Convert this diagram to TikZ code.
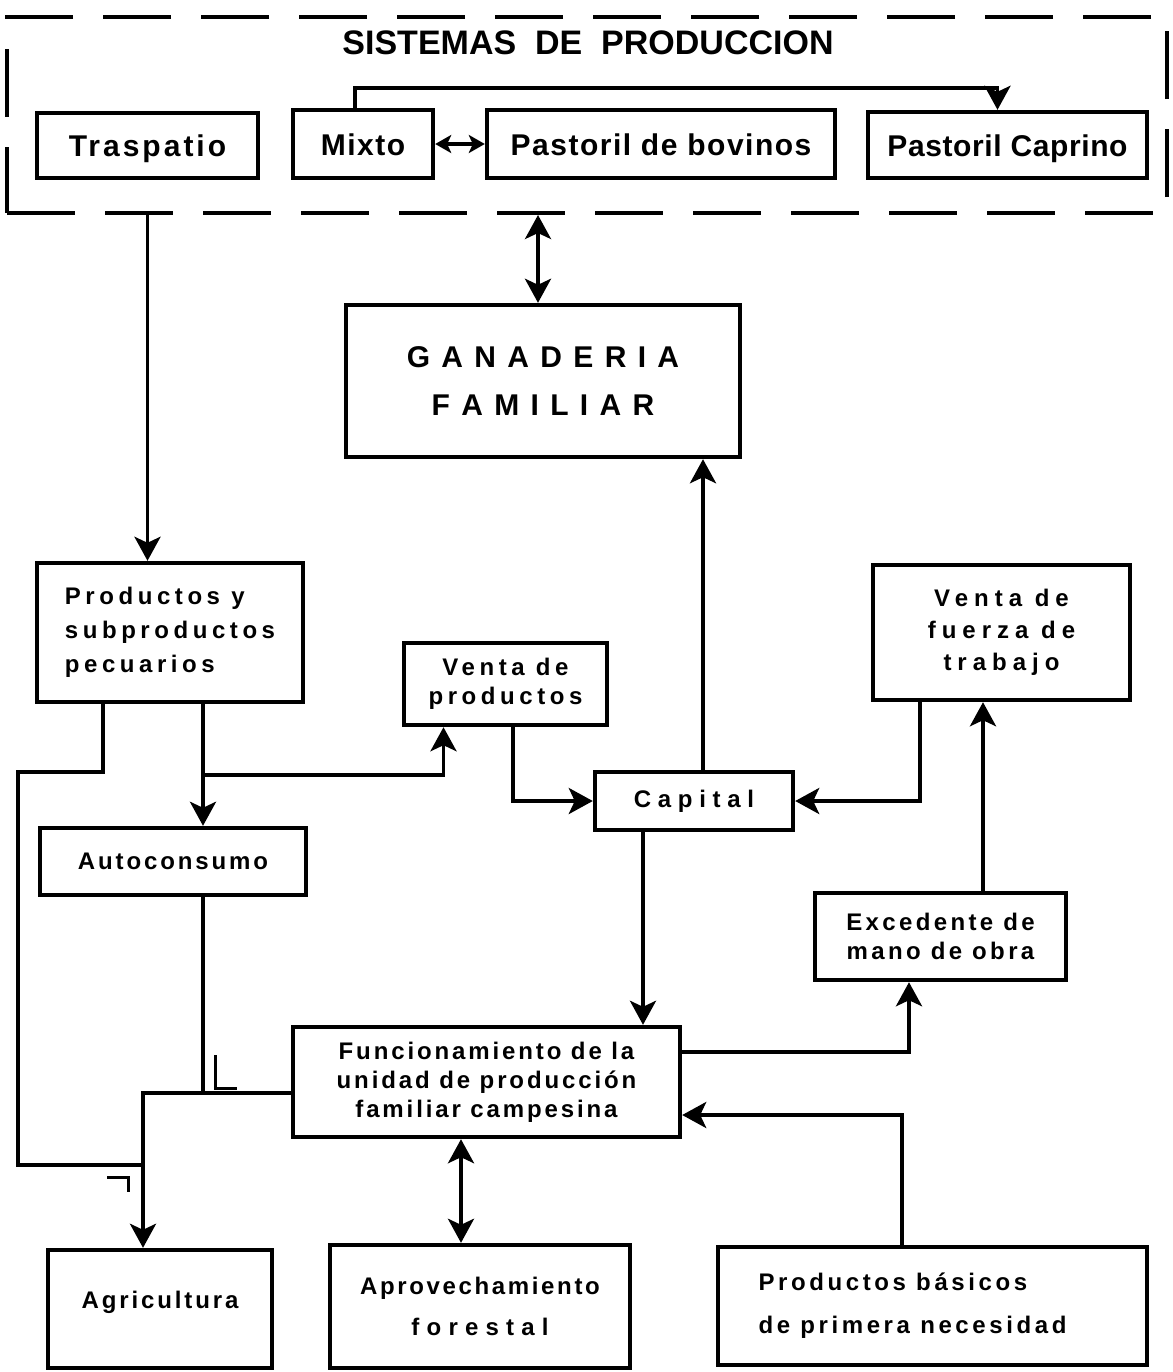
\documentclass[tikz,border=0pt]{standalone}
\usepackage{fontspec}
\newfontfamily\lblfont{Liberation Sans}
\usetikzlibrary{arrows.meta}

\begin{document}
\begin{tikzpicture}[x=0.5pt, y=-0.5pt]
  \useasboundingbox (0,0) rectangle (1173,1372);

  % Estilos.
  \tikzset{
    caja/.style={draw, line width=2.2pt, inner sep=0pt, align=center,
      font=\lblfont\bfseries\addfontfeature{LetterSpace=#1}\fontsize{12}{14.5}\selectfont},
    caja/.default=15,
    cajasup/.style={draw, line width=2.2pt, inner sep=0pt, align=center,
      font=\lblfont\bfseries\addfontfeature{LetterSpace=#1}\fontsize{15}{18}\selectfont},
    cajasup/.default=5,
    fila/.style={text height=11pt, text depth=0pt},
    linea/.style={line width=1.9pt},
    flecha/.style={linea, -{Stealth[length=12pt, width=13pt, inset=3pt]}},
    dflecha/.style={linea, {Stealth[length=12pt, width=13pt, inset=3pt]}-{Stealth[length=12pt, width=13pt, inset=3pt]}},
    dflechita/.style={linea, {Stealth[length=8pt, width=9pt, inset=2pt]}-{Stealth[length=8pt, width=9pt, inset=2pt]}}
  }

  % Sistemas de produccion.
  \node[draw, line width=2pt, dash pattern=on 34pt off 15pt, minimum width=580pt, minimum height=98pt] (sistemas) at (587,115) {};
  \node[font=\lblfont\bfseries\fontsize{17}{20}\selectfont] (titulo) at (588,43) {SISTEMAS\ \ DE\ \ PRODUCCION};
  \node[cajasup=10, fila, minimum width=110.5pt, minimum height=32.5pt] (traspatio) at (147.5,145.5) {Traspatio};
  \node[cajasup, fila, minimum width=70pt, minimum height=34pt] (mixto) at (363,144) {Mixto};
  \node[cajasup, fila, minimum width=174pt, minimum height=34pt] (bovinos) at (661,144) {Pastoril de bovinos};
  \node[cajasup=2, fila, minimum width=139.5pt, minimum height=33pt] (caprino) at (1007.5,145) {Pastoril Caprino};

  % Cajas.
  \node[cajasup=10, minimum width=197pt, minimum height=76pt] (ganaderia) at (543,381) {G A N A D E R I A\\[6pt]F A M I L I A R};
  \node[caja=19, align=left, minimum width=133pt, minimum height=69.5pt] (productos) at (170,632.5) {Productos y\\[2.5pt]subproductos\\[2.5pt]pecuarios};
  \node[caja=19, minimum width=101.5pt, minimum height=41pt] (ventaprod) at (505.5,684) {Venta de\\productos};
  \node[caja=25, minimum width=128.5pt, minimum height=67.5pt] (ventafuerza) at (1001.5,632.5) {Venta de\\[1.5pt]fuerza de\\[1.5pt]trabajo};
  \node[caja=28, minimum width=99pt, minimum height=29pt] (capital) at (694,801) {Capital};
  \node[caja=12, minimum width=133pt, minimum height=33.5pt] (autoconsumo) at (173,861.5) {Autoconsumo};
  \node[caja=14, minimum width=125.5pt, minimum height=43.5pt] (excedente) at (940.5,936.5) {Excedente de\\mano de obra};
  \node[caja=12, minimum width=193.5pt, minimum height=55pt] (funcionamiento) at (486.5,1082) {Funcionamiento de la\\unidad de producción\\familiar campesina};
  \node[caja=12, minimum width=112pt, minimum height=59pt] (agricultura) at (160,1309) {\raisebox{9pt}{Agricultura}};
  \node[caja=11, minimum width=150pt, minimum height=61.5pt] (aprovechamiento) at (480,1306.5) {Aprovechamiento\\[6pt]{\addfontfeature{LetterSpace=30}forestal}};
  \node[caja, align=left, minimum width=214.5pt, minimum height=59pt] (basicos) at (932.5,1306) {Productos básicos\\[7pt]de primera necesidad\rule{20pt}{0pt}};

  % Puntos de quiebre.
  \coordinate (izq) at (18,772);
  \coordinate (izqb) at (18,1165);
  \coordinate (bifur) at (203,775);

  % Conexiones.
  \draw[dflechita] (mixto.east) -- (bovinos.west);
  \draw[flecha] ([xshift=-4pt]mixto.north) -- ++(0,-20) -| ([xshift=-5pt]caprino.north);
  \draw[flecha] (traspatio |- sistemas.south) -- (traspatio |- productos.north);
  \draw[dflecha] ([xshift=-2.5pt]ganaderia.north |- sistemas.south) -- ([xshift=-2.5pt]ganaderia.north);
  \draw[flecha] ([xshift=4.5pt]capital.north) -- ([xshift=4.5pt]capital.north |- ganaderia.south);
  \draw[flecha] ([xshift=16.5pt]productos.south) -- ([xshift=16.5pt]productos.south |- autoconsumo.north);
  \draw[flecha] (bifur) -| ([xshift=-31pt]ventaprod.south);
  \draw[flecha] ([xshift=3.75pt]ventaprod.south) |- (capital.west);
  \draw[flecha] ([xshift=-40.75pt]ventafuerza.south) |- (capital.east);
  \draw[flecha] ([xshift=-25.5pt]capital.south) -- ([xshift=-25.5pt]capital.south |- funcionamiento.north);
  \draw[flecha] ([yshift=15pt]funcionamiento.east) -| ([xshift=-15.75pt]excedente.south);
  \draw[flecha] ([xshift=21.25pt]excedente.north) -- ([xshift=21.25pt]excedente.north |- ventafuerza.south);
  \draw[flecha] ([xshift=-15.25pt]basicos.north) |- ([yshift=-16.5pt]funcionamiento.east);
  \draw[dflecha] ([xshift=-12.75pt]funcionamiento.south) -- ([xshift=-12.75pt]funcionamiento.south |- aprovechamiento.north);
  \draw[flecha] ([yshift=-5.5pt]funcionamiento.west) -| ([xshift=-8.5pt]agricultura.north);
  \draw[linea] ([xshift=15pt]autoconsumo.south) |- ([yshift=-5.5pt]funcionamiento.west);
  \draw[linea] ([xshift=-33.5pt]productos.south) |- (izq) -- (izqb) -- ([xshift=-8.5pt]agricultura.north |- izqb);

  % Marcas.
  \draw[line width=1.5pt] (215,1055) -- (215,1088) -- (237,1088);
  \draw[line width=1.5pt] (107,1177) -- (128,1177) -- (128,1192);
\end{tikzpicture}
\end{document}
